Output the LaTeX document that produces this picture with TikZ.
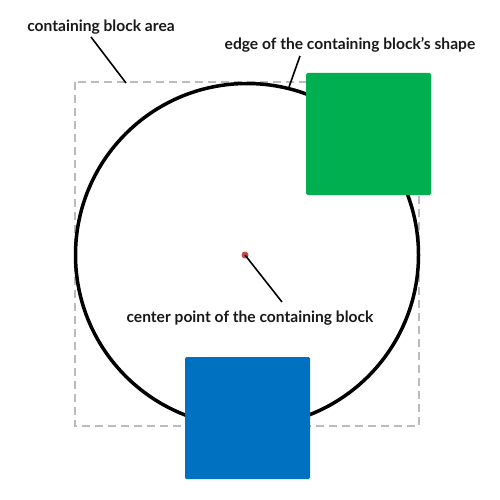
\documentclass[tikz,border=0pt]{standalone}
\usepackage{fontspec}
\setmainfont{Lato}
\definecolor{sqgreen}{HTML}{00AF50}
\definecolor{sqblue}{HTML}{0070C0}
\definecolor{dotred}{HTML}{C0504D}
\definecolor{dashgray}{HTML}{BBBBBB}
\begin{document}
\begin{tikzpicture}[x=1pt,y=-1pt,
  lbl/.style={font=\fontsize{15.6}{18}\selectfont\bfseries, text=black!90, inner sep=0pt, anchor=center},
  leader/.style={draw=black, line width=1.6pt},
  sq/.style={rectangle, rounded corners=1.5pt, draw=none, inner sep=0pt, minimum width=125pt, minimum height=122pt}]
\useasboundingbox[fill=white] (0,0) rectangle (500,500);
% containing block area
\draw[dashgray, line width=1.8pt, dash pattern=on 8pt off 5pt] (75,82) rectangle (419,426);
% circle
\node[circle, draw=black, line width=3.5pt, minimum size=343pt, inner sep=0pt] (circ) at (247,255) {};
% squares
\node[sq, fill=sqgreen] (green) at (368.5,134) {};
\node[sq, fill=sqblue] (blue) at (247.5,418) {};
% center dot
\node[circle, fill=dotred, inner sep=0pt, minimum size=7pt] (dot) at (245,255) {};
% labels
\node[lbl] (larea) at (101,27) {containing block area};
\node[lbl] (ledge) at (350,45) {edge of the containing block's shape};
\node[lbl] (lcenter) at (250,318) {center point of the containing block};
% leader end points
\coordinate (a0) at (91,37);
\coordinate (a1) at (126,83);
\coordinate (e0) at (300,56);
\coordinate (e1) at (289,87);
\coordinate (c1) at (282,302);
\draw[leader] (a0) -- (a1);
\draw[leader] (e0) -- (e1);
\draw[leader] (dot.center) -- (c1);
\end{tikzpicture}
\end{document}
